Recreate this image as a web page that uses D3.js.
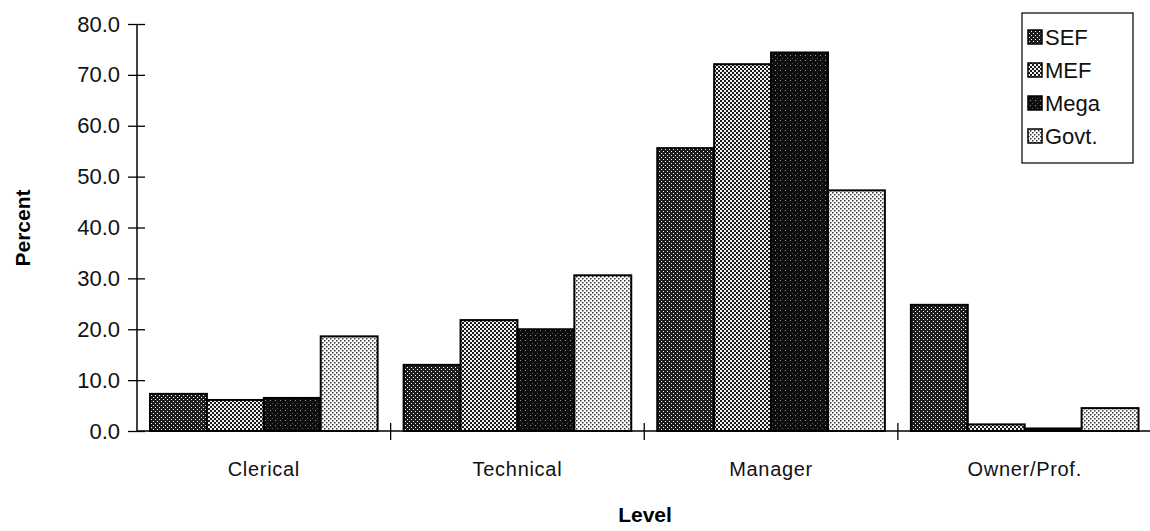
<!DOCTYPE html>
<html><head><meta charset="utf-8">
<script src="https://cdn.jsdelivr.net/npm/d3@7"></script>
<style>body{margin:0;background:#fff}svg{display:block;font-family:"Liberation Sans",Arial,sans-serif}</style>
</head><body>
<svg id="chart" width="1150" height="531"></svg>
<script>
const categories = ["Clerical", "Technical", "Manager", "Owner/Prof."];
const seriesNames = ["SEF", "MEF", "Mega", "Govt."];
const SEF  = [7.3, 13.0, 55.6, 24.8];
const MEF  = [6.1, 21.8, 72.1, 1.3];
const Mega = [6.5, 20.0, 74.4, 0.5];
const Govt = [18.6, 30.6, 47.3, 4.5];
const yTicks = [0, 10, 20, 30, 40, 50, 60, 70, 80];
const seriesValues = [SEF, MEF, Mega, Govt];

const svg = d3.select("#chart");
const m = {left: 137, right: 1150, top: 24, bottom: 431};

const defs = svg.append("defs");
function pattern(id, size, bg, dots) {
  const p = defs.append("pattern").attr("id", id).attr("patternUnits", "userSpaceOnUse")
    .attr("width", size).attr("height", size);
  p.append("rect").attr("width", size).attr("height", size).attr("fill", bg);
  dots.forEach(d => p.append("rect").attr("x", d[0]).attr("y", d[1]).attr("width", d[2]).attr("height", d[2]).attr("fill", d[3]));
}
pattern("pSEF", 4, "#1c1c1c", [[1, 1, 1, "#ffffff"], [3, 3, 1, "#ffffff"]]);
pattern("pMEF", 4, "#f2f2f2", [[0, 0, 2, "#1a1a1a"], [2, 2, 2, "#1a1a1a"]]);
pattern("pMega", 5, "#0e0e0e", [[0, 0, 1, "#9a9a9a"], [2, 3, 1, "#555"]]);
pattern("pGovt", 4, "#ffffff", [[0, 0, 1.5, "#333"], [2, 2, 1.5, "#333"]]);
const fills = ["url(#pSEF)", "url(#pMEF)", "url(#pMega)", "url(#pGovt)"];

const x0 = d3.scaleBand().domain(categories).range([m.left, m.right + 1.5]).paddingInner(0).paddingOuter(0);
const x1 = d3.scaleBand().domain(seriesNames).range([13, x0.bandwidth() - 13]).padding(0);
const y = d3.scaleLinear().domain([0, 80]).range([m.bottom, m.top]);

// bars
const g = svg.append("g");
categories.forEach((c, ci) => {
  seriesNames.forEach((s, si) => {
    const v = seriesValues[si][ci];
    g.append("rect")
      .attr("x", x0(c) + x1(s))
      .attr("y", y(v))
      .attr("width", x1.bandwidth())
      .attr("height", y(0) - y(v))
      .attr("fill", fills[si])
      .attr("stroke", "#000")
      .attr("stroke-width", 2);
  });
});

// y axis
const yAxis = svg.append("g").attr("transform", `translate(${m.left},0)`)
  .call(d3.axisLeft(y).tickValues(yTicks).tickFormat(d3.format(".1f")).tickSize(9).tickPadding(9));
yAxis.select(".domain").attr("stroke", "#000").attr("stroke-width", 1.5).attr("d", `M0,${m.top}V${m.bottom}`);
yAxis.selectAll(".tick line").attr("x1", -9).attr("x2", 8).attr("stroke-width", 1.3);
yAxis.selectAll(".tick text").attr("font-size", 22).attr("fill", "#111").attr("x", -17);

// x axis
const xAxis = svg.append("g").attr("transform", `translate(0,${m.bottom})`)
  .call(d3.axisBottom(x0).tickSize(0).tickPadding(31));
xAxis.select(".domain").attr("stroke", "#000").attr("stroke-width", 1.5).attr("d", `M${m.left},0H${m.right}`);
xAxis.selectAll(".tick text").attr("font-size", 20).attr("fill", "#111").attr("letter-spacing", 0.7);
const bounds = categories.map(c => x0(c) + x0.bandwidth()).slice(0, 3);
xAxis.selectAll(".bound").data(bounds).join("line").attr("class", "bound")
  .attr("x1", d => d).attr("x2", d => d).attr("y1", -8).attr("y2", 9).attr("stroke", "#000").attr("stroke-width", 1.3);

// axis titles
svg.append("text").attr("transform", "translate(30,228) rotate(-90)").attr("text-anchor", "middle")
  .attr("font-size", 21).attr("font-weight", "bold").text("Percent");
svg.append("text").attr("x", 645).attr("y", 522).attr("text-anchor", "middle")
  .attr("font-size", 21).attr("font-weight", "bold").text("Level");

// legend
const lg = svg.append("g");
lg.append("rect").attr("x", 1022).attr("y", 13).attr("width", 111).attr("height", 150)
  .attr("fill", "#fff").attr("stroke", "#000").attr("stroke-width", 1.2);
seriesNames.forEach((s, i) => {
  const cy = 37 + i * 33;
  lg.append("rect").attr("x", 1028).attr("y", cy - 7).attr("width", 14).attr("height", 14)
    .attr("fill", fills[i]).attr("stroke", "#000").attr("stroke-width", 1.5);
  lg.append("text").attr("x", 1045).attr("y", cy + 8).attr("font-size", 22).attr("fill", "#111").text(s);
});
</script>
</body></html>
